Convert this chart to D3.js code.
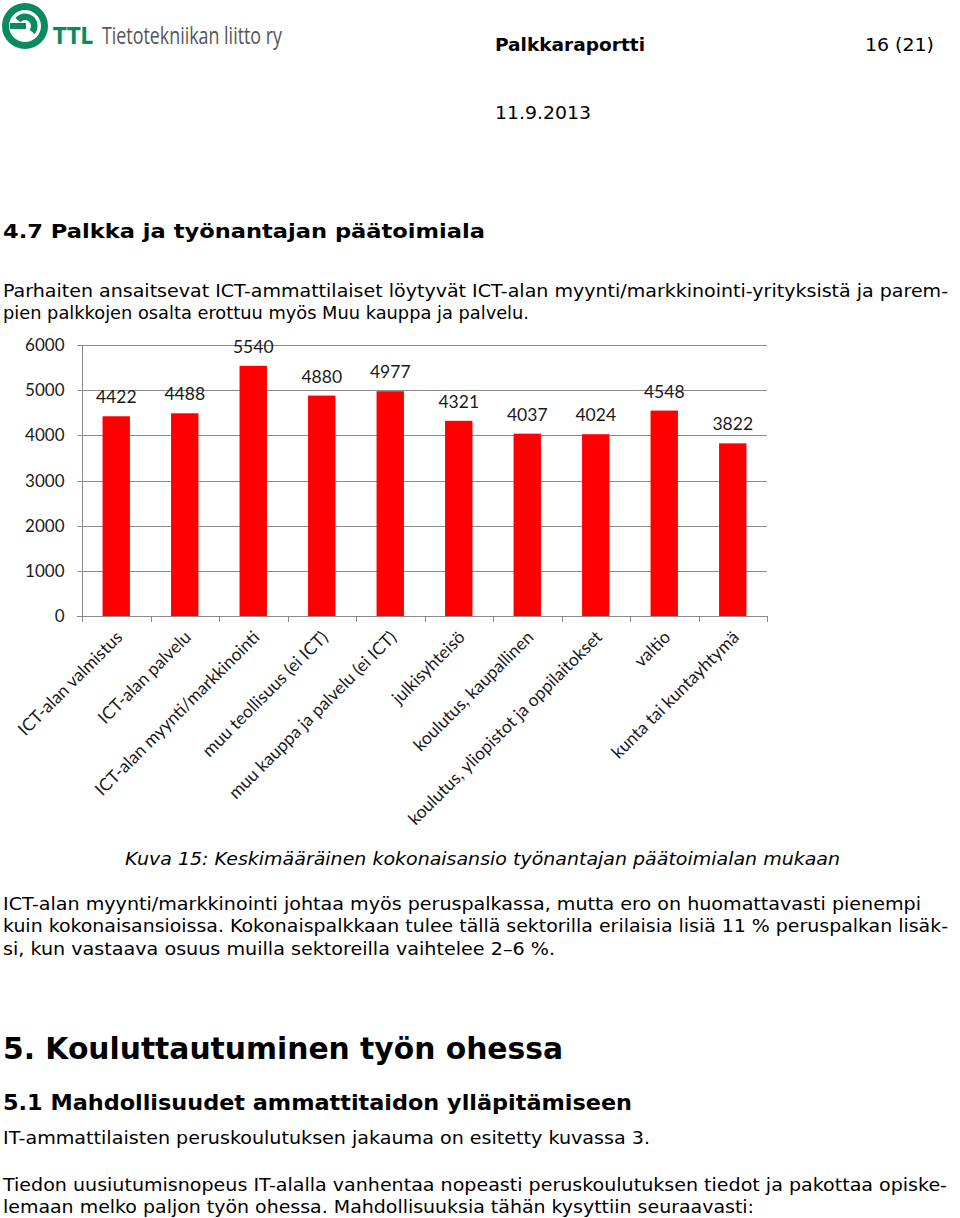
<!DOCTYPE html>
<html>
<head>
<meta charset="utf-8">
<script src="https://cdn.jsdelivr.net/npm/d3@7"></script>
<style>
  body { margin: 0; background: #fff; }
  svg text { fill: #000; }
</style>
</head>
<body>
<div class="page"></div>
<script>
// chart data
var categories = [
  "ICT-alan valmistus",
  "ICT-alan palvelu",
  "ICT-alan myynti/markkinointi",
  "muu teollisuus (ei ICT)",
  "muu kauppa ja palvelu (ei ICT)",
  "julkisyhteisö",
  "koulutus, kaupallinen",
  "koulutus, yliopistot ja oppilaitokset",
  "valtio",
  "kunta tai kuntayhtymä"
];
var values = [4422, 4488, 5540, 4880, 4977, 4321, 4037, 4024, 4548, 3822];
var yTicks = [0, 1000, 2000, 3000, 4000, 5000, 6000];

var width = 960,
    height = 1218;

var svg = d3.select(".page").append("svg")
    .attr("width", width)
    .attr("height", height);

var bodyFont = "'DejaVu Sans', Verdana, sans-serif",
    chartFont = "Lato, 'Open Sans', sans-serif";

// logo
var logo = svg.append("g").attr("class", "logo");
logo.append("circle")
    .attr("cx", 25).attr("cy", 26).attr("r", 19.5)
    .attr("fill", "none").attr("stroke", "#0b8a5e").attr("stroke-width", 7);
var arc = d3.arc().innerRadius(6).outerRadius(12.5)
    .startAngle(-Math.PI * 0.78).endAngle(Math.PI * 0.22);
logo.append("path")
    .attr("transform", "translate(25,26) rotate(90)")
    .attr("d", arc())
    .attr("fill", "#0b8a5e");
logo.append("rect")
    .attr("x", 10).attr("y", 23).attr("width", 16).attr("height", 6)
    .attr("fill", "#0b8a5e");
logo.append("text")
    .attr("x", 53).attr("y", 44)
    .attr("font-family", "'DejaVu Sans', sans-serif")
    .attr("font-weight", "bold").attr("font-size", 23)
    .attr("textLength", 40).attr("lengthAdjust", "spacingAndGlyphs")
    .style("fill", "#0b8a5e")
    .text("TTL");
logo.append("text")
    .attr("x", 102).attr("y", 44)
    .attr("font-family", "'Open Sans', sans-serif")
    .attr("font-size", 23)
    .attr("textLength", 180).attr("lengthAdjust", "spacingAndGlyphs")
    .style("fill", "#555")
    .text("Tietotekniikan liitto ry");

// page text
var lines = [
  {t: "Palkkaraportti", x: 495, y: 51, s: 17, w: "bold", len: 150},
  {t: "16 (21)", x: 865, y: 51, s: 17, len: 69},
  {t: "11.9.2013", x: 495, y: 119, s: 17, len: 96},
  {t: "4.7 Palkka ja työnantajan päätoimiala", x: 3, y: 238, s: 20, w: "bold", len: 482},
  {t: "Parhaiten ansaitsevat ICT-ammattilaiset löytyvät ICT-alan myynti/markkinointi-yrityksistä ja parem-", x: 3, y: 297, s: 17, len: 945},
  {t: "pien palkkojen osalta erottuu myös Muu kauppa ja palvelu.", x: 3, y: 319, s: 17, len: 526},
  {t: "Kuva 15: Keskimääräinen kokonaisansio työnantajan päätoimialan mukaan", x: 125, y: 865, s: 17, i: true, len: 715},
  {t: "ICT-alan myynti/markkinointi johtaa myös peruspalkassa, mutta ero on huomattavasti pienempi", x: 3, y: 910, s: 17, len: 918},
  {t: "kuin kokonaisansioissa. Kokonaispalkkaan tulee tällä sektorilla erilaisia lisiä 11 % peruspalkan lisäk-", x: 3, y: 932, s: 17, len: 945},
  {t: "si, kun vastaava osuus muilla sektoreilla vaihtelee 2–6 %.", x: 3, y: 955, s: 17, len: 552},
  {t: "5. Kouluttautuminen työn ohessa", x: 3, y: 1059, s: 30, w: "bold", len: 560},
  {t: "5.1 Mahdollisuudet ammattitaidon ylläpitämiseen", x: 3, y: 1110, s: 22, w: "bold", len: 629},
  {t: "IT-ammattilaisten peruskoulutuksen jakauma on esitetty kuvassa 3.", x: 3, y: 1144, s: 17, len: 647},
  {t: "Tiedon uusiutumisnopeus IT-alalla vanhentaa nopeasti peruskoulutuksen tiedot ja pakottaa opiske-", x: 3, y: 1191, s: 17, len: 944},
  {t: "lemaan melko paljon työn ohessa. Mahdollisuuksia tähän kysyttiin seuraavasti:", x: 3, y: 1213, s: 17, len: 751}
];

svg.append("g").attr("class", "page-text")
  .selectAll("text")
  .data(lines)
  .enter()
  .append("text")
  .attr("x", function(d){ return d.x; })
  .attr("y", function(d){ return d.y; })
  .attr("font-family", bodyFont)
  .attr("font-size", function(d){ return d.s; })
  .attr("font-weight", function(d){ return d.w || "normal"; })
  .attr("font-style", function(d){ return d.i ? "italic" : "normal"; })
  .attr("textLength", function(d){ return d.len; })
  .attr("lengthAdjust", "spacingAndGlyphs")
  .text(function(d){ return d.t; });

// chart
var plot = {left: 82, right: 767, top: 345, bottom: 616};

var x = d3.scaleBand()
    .domain(categories)
    .range([plot.left, plot.right])
    .paddingInner(0.6)
    .paddingOuter(0.3);

var y = d3.scaleLinear()
    .domain([0, 6000])
    .range([plot.bottom, plot.top]);

var chart = svg.append("g").attr("class", "chart");

// gridlines
chart.append("g").attr("class", "grid")
  .selectAll("line")
  .data(yTicks.filter(function(d){ return d > 0; }))
  .enter()
  .append("line")
  .attr("x1", plot.left)
  .attr("x2", plot.right)
  .attr("y1", function(d){ return Math.round(y(d)) + 0.5; })
  .attr("y2", function(d){ return Math.round(y(d)) + 0.5; })
  .attr("stroke", "#8a8a8a")
  .attr("stroke-width", 1);

// bars
chart.append("g").attr("class", "bars")
  .selectAll("rect")
  .data(values)
  .enter()
  .append("rect")
  .attr("x", function(d, i){ return x(categories[i]); })
  .attr("width", x.bandwidth())
  .attr("y", function(d){ return y(d); })
  .attr("height", function(d){ return y(0) - y(d); })
  .attr("fill", "#ff0000");

// value labels
chart.append("g").attr("class", "values")
  .selectAll("text")
  .data(values)
  .enter()
  .append("text")
  .attr("x", function(d, i){ return x(categories[i]) + x.bandwidth() / 2; })
  .attr("y", function(d){ return y(d) - 13; })
  .attr("text-anchor", "middle")
  .attr("font-family", chartFont)
  .attr("font-size", 17.5)
  .style("fill", "#1a1a1a")
  .text(function(d){ return d; });

// y axis
var yAxis = d3.axisLeft(y)
    .tickValues(yTicks)
    .tickSize(5)
    .tickPadding(13)
    .tickFormat(d3.format("d"));

var yG = chart.append("g")
    .attr("transform", "translate(" + (plot.left + 0.5) + ",0)")
    .call(yAxis);
yG.select(".domain").attr("stroke", "#8a8a8a").attr("d", "M-5," + (plot.top + 0.5) + "H0V" + (plot.bottom + 0.5) + "H-5");
yG.selectAll(".tick line").attr("stroke", "#8a8a8a");
yG.selectAll(".tick")
  .attr("transform", function(d){ return "translate(0," + (Math.round(y(d)) + 0.5) + ")"; });
yG.selectAll(".tick text")
  .attr("font-family", chartFont)
  .attr("font-size", 17)
  .style("fill", "#1a1a1a");

// x axis line and category boundary ticks
var bounds = d3.range(categories.length + 1).map(function(i){
  return plot.left + i * x.step();
});
var xG = chart.append("g").attr("class", "x-axis");
xG.append("line")
  .attr("x1", plot.left - 5).attr("x2", plot.right)
  .attr("y1", plot.bottom + 0.5).attr("y2", plot.bottom + 0.5)
  .attr("stroke", "#8a8a8a");
xG.selectAll(".xt")
  .data(bounds)
  .enter()
  .append("line")
  .attr("class", "xt")
  .attr("x1", function(d){ return Math.round(d) + 0.5; })
  .attr("x2", function(d){ return Math.round(d) + 0.5; })
  .attr("y1", plot.bottom)
  .attr("y2", plot.bottom + 6)
  .attr("stroke", "#8a8a8a");

// rotated category labels
xG.selectAll(".xl")
  .data(categories)
  .enter()
  .append("text")
  .attr("class", "xl")
  .attr("transform", function(d){
    return "translate(" + (x(d) + x.bandwidth() / 2 + 3) + "," + (plot.bottom + 18) + ") rotate(-45)";
  })
  .attr("text-anchor", "end")
  .attr("dy", "0.35em")
  .attr("font-family", chartFont)
  .attr("font-size", 17.5)
  .style("fill", "#1a1a1a")
  .text(function(d){ return d; });
</script>
</body>
</html>
